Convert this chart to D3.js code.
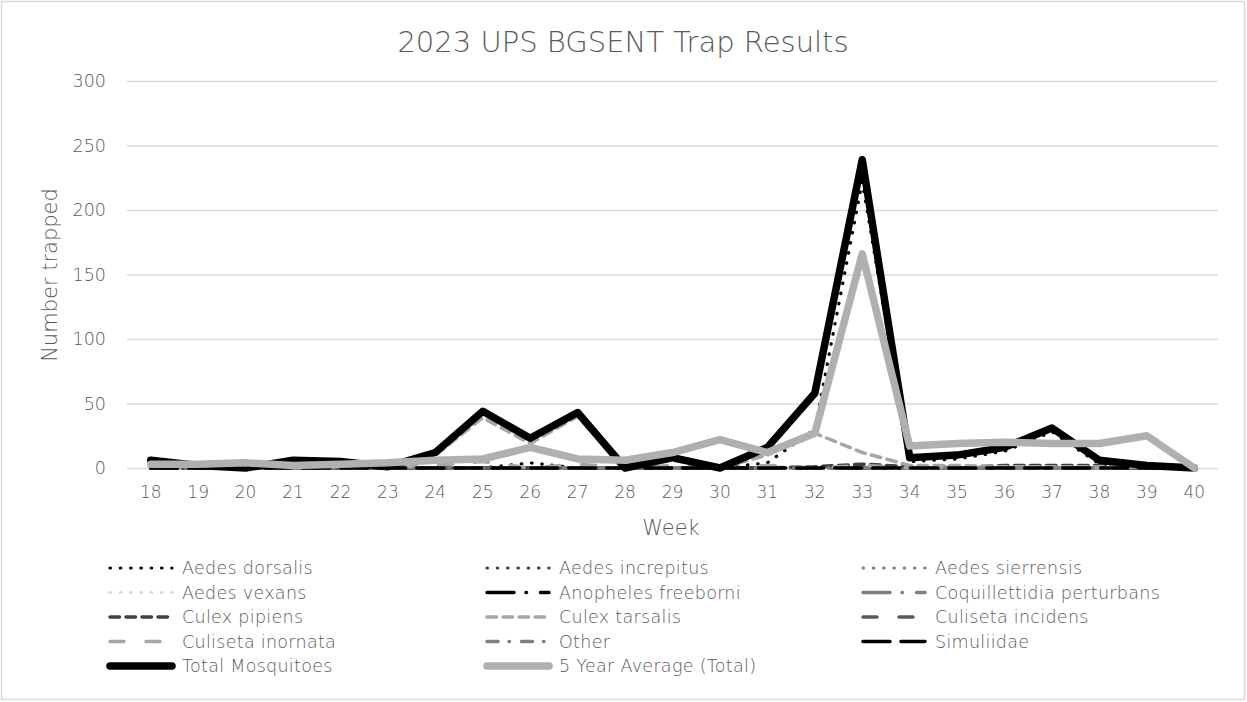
<!DOCTYPE html>
<html>
<head>
<meta charset="utf-8">
<script src="https://cdn.jsdelivr.net/npm/d3@7"></script>
<style>
  html, body { margin: 0; padding: 0; background: #fff; }
  svg text { font-family: "DejaVu Sans", Lato, sans-serif; font-weight: 200; fill: #595959; }
</style>
</head>
<body>
<svg id="chart" width="1247" height="702"></svg>
<script>
// Weekly trap counts, 2023 season
const weeks = [18,19,20,21,22,23,24,25,26,27,28,29,30,31,32,33,34,35,36,37,38,39,40];
const yTicks = [0,50,100,150,200,250,300];

const aedesDorsalis      = [0,0,0,0,0,0,0,0,4,0,0,0,0,4,30,222,5,7,13,28,3,0,0];
const aedesIncrepitus    = [0,0,0,0,0,0,0,0,0,0,0,0,0,0,0,0,0,0,0,0,0,0,0];
const aedesSierrensis    = [0,0,0,0,0,0,0,0,0,0,0,0,0,0,0,0,0,0,0,0,0,0,0];
const aedesVexans        = [0,0,0,0,0,0,0,0,0,0,0,0,0,0,0,0,0,0,0,0,0,0,0];
const anophelesFreeborni = [0,0,0,0,0,0,0,0,0,0,0,0,0,0,0,0,0,0,0,0,0,0,0];
const coquillettidia     = [0,0,0,0,0,0,0,0,0,0,0,0,0,0,0,0,0,0,0,0,0,0,0];
const culexPipiens       = [0,0,0,0,0,0,0,0,0,0,0,0,0,0,1,3,1,0,2,2,2,0,0];
const culexTarsalis      = [4,1,0,4,3,1,10,39,19,40,0,6,0,10,27,12,2,2,1,1,1,1,0];
const culisetaIncidens   = [0,0,0,0,0,0,0,0,0,0,0,0,0,0,0,1,0,0,0,0,0,0,0];
const culisetaInornata   = [2,1,0,2,2,0,2,5,0,3,0,2,0,2,0,2,0,1,0,0,0,1,0];
const other              = [0,0,0,0,0,0,0,0,0,0,0,0,0,0,0,0,0,0,0,0,0,0,0];
const simuliidae         = [0,0,0,0,0,0,0,0,0,0,0,0,0,0,0,0,0,0,0,0,0,0,0];
const totalMosquitoes    = [6,2,0,6,5,1,12,44,23,43,0,8,0,16,58,239,8,10,16,31,6,2,0];
const fiveYearAverage    = [3,3,4,2,3,4,6,7,16,7,6,12,22,12,27,166,17,19,20,19,19,25,0];

const seriesNames = [
  "Aedes dorsalis","Aedes increpitus","Aedes sierrensis",
  "Aedes vexans","Anopheles freeborni","Coquillettidia perturbans",
  "Culex pipiens","Culex tarsalis","Culiseta incidens",
  "Culiseta inornata","Other","Simuliidae",
  "Total Mosquitoes","5 Year Average (Total)"
];
const seriesValues = [
  aedesDorsalis, aedesIncrepitus, aedesSierrensis,
  aedesVexans, anophelesFreeborni, coquillettidia,
  culexPipiens, culexTarsalis, culisetaIncidens,
  culisetaInornata, other, simuliidae,
  totalMosquitoes, fiveYearAverage
];

// stroke styles for each series, same order as the names
const styles = [
  { color: "#000000", width: 3.2, dash: "0.5 9.8", cap: "round" },
  { color: "#404040", width: 3.2, dash: "0.5 9.8", cap: "round" },
  { color: "#7f7f7f", width: 3.2, dash: "0.5 9.8", cap: "round" },
  { color: "#d9d9d9", width: 3.2, dash: "0.5 9.8", cap: "round" },
  { color: "#000000", width: 3.5, dash: "27 12 0.5 14", cap: "round" },
  { color: "#7f7f7f", width: 3.5, dash: "27 12 0.5 14", cap: "round" },
  { color: "#404040", width: 3.5, dash: "9.5 6.5", cap: "round" },
  { color: "#a6a6a6", width: 3.5, dash: "9.5 6.5", cap: "round" },
  { color: "#595959", width: 3.5, dash: "14 22", cap: "round" },
  { color: "#a6a6a6", width: 3.5, dash: "14 22", cap: "round" },
  { color: "#7f7f7f", width: 3.5, dash: "11 11 0.5 12", cap: "round" },
  { color: "#000000", width: 3.5, dash: "27 11", cap: "round" },
  { color: "#000000", width: 7.5, dash: null, cap: "round" },
  { color: "#b0b0b0", width: 7.5, dash: null, cap: "round" }
];

const svg = d3.select("#chart");
const W = 1247, H = 702;

// outer chart border
svg.append("rect")
  .attr("x", 1.5).attr("y", 1.5)
  .attr("width", W - 4).attr("height", H - 4)
  .attr("fill", "#fff").attr("stroke", "#d9d9d9").attr("stroke-width", 1.5);

const plot = { left: 127, right: 1218, top: 81, bottom: 468 };

const x = d3.scaleBand().domain(weeks).range([plot.left, plot.right]).padding(0);
const xc = w => x(w) + x.bandwidth() / 2;
const y = d3.scaleLinear().domain([0, 300]).range([plot.bottom, plot.top]);

// gridlines
const yAxis = d3.axisLeft(y).tickValues(yTicks).tickSize(-(plot.right - plot.left)).tickPadding(21);
const gy = svg.append("g").attr("transform", `translate(${plot.left},0)`).call(yAxis);
gy.select(".domain").remove();
gy.selectAll(".tick line").attr("stroke", "#d9d9d9").attr("stroke-width", 1.5);
gy.selectAll(".tick text").attr("font-size", 17.5).style("fill", "#595959");

// category axis labels
const xAxis = d3.axisBottom(x).tickSize(0).tickPadding(18);
const gx = svg.append("g").attr("transform", `translate(0,${plot.bottom})`).call(xAxis);
gx.select(".domain").remove();
gx.selectAll(".tick text").attr("font-size", 17).style("fill", "#595959");

// series lines, drawn in order so the totals sit on top
const line = d3.line().x((d, i) => xc(weeks[i])).y(d => y(d));
seriesValues.forEach((vals, k) => {
  const s = styles[k];
  svg.append("path")
    .datum(vals)
    .attr("d", line)
    .attr("fill", "none")
    .attr("stroke", s.color)
    .attr("stroke-width", s.width)
    .attr("stroke-linejoin", "round")
    .attr("stroke-linecap", s.cap)
    .attr("stroke-dasharray", s.dash);
});

// titles
svg.append("text")
  .attr("x", 623).attr("y", 52)
  .attr("text-anchor", "middle")
  .attr("font-size", 29)
  .text("2023 UPS BGSENT Trap Results");

svg.append("text")
  .attr("x", 671).attr("y", 535)
  .attr("text-anchor", "middle")
  .attr("font-size", 21)
  .text("Week");

svg.append("text")
  .attr("transform", "translate(57,275) rotate(-90)")
  .attr("text-anchor", "middle")
  .attr("font-size", 21)
  .text("Number trapped");

// legend: three columns
const legCols = [110, 487, 863];
const legRow0 = 568, legRowStep = 24.5, sampleLen = 62;
seriesNames.forEach((name, k) => {
  const col = k % 3, row = Math.floor(k / 3);
  const lx = legCols[col], ly = legRow0 + row * legRowStep;
  const s = styles[k];
  svg.append("line")
    .attr("x1", lx).attr("x2", lx + sampleLen)
    .attr("y1", ly).attr("y2", ly)
    .attr("stroke", s.color)
    .attr("stroke-width", s.width)
    .attr("stroke-linecap", s.cap)
    .attr("stroke-dasharray", s.dash);
  svg.append("text")
    .attr("x", lx + sampleLen + 10).attr("y", ly)
    .attr("dy", "0.35em")
    .attr("font-size", 17.5)
    .attr("letter-spacing", 0.3)
    .text(name);
});
</script>
</body>
</html>
